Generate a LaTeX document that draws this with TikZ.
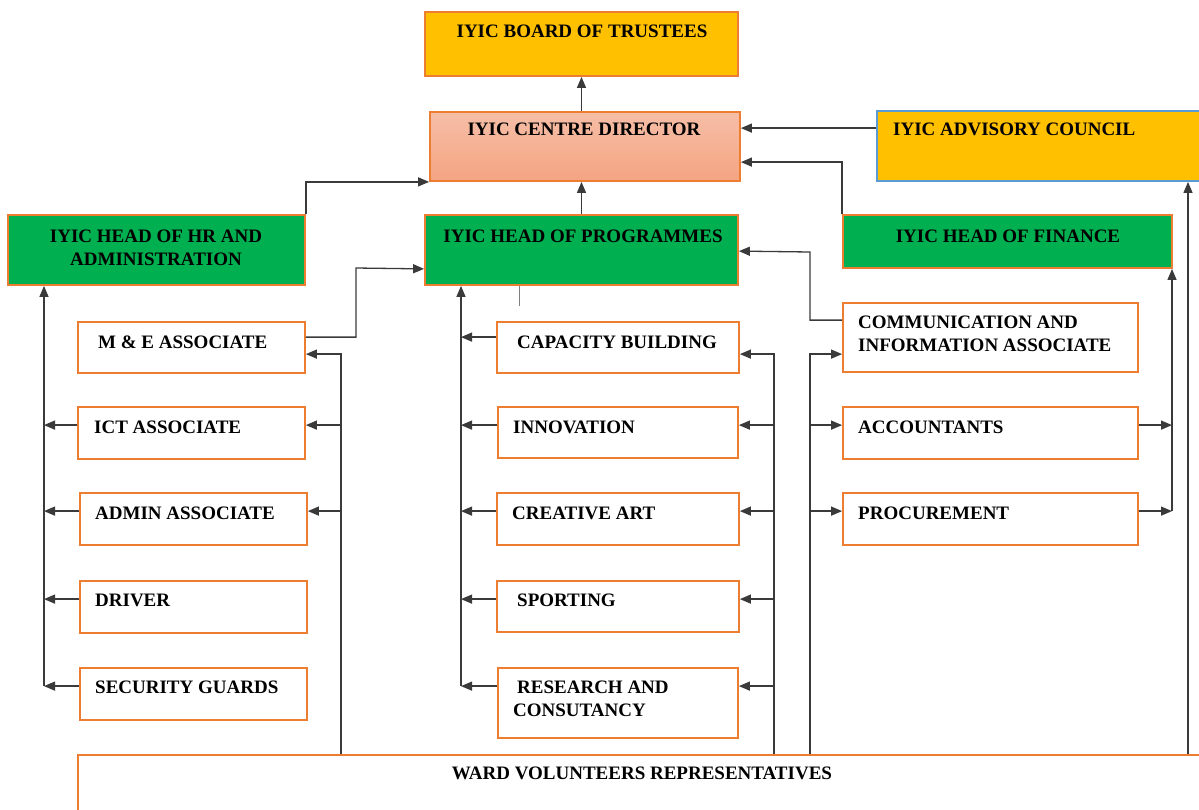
\documentclass[tikz,border=0pt]{standalone}
\usepackage{fontspec}
\setmainfont{Liberation Serif}
\usetikzlibrary{arrows.meta,calc}
\definecolor{borange}{HTML}{ED7D31}
\definecolor{gold}{HTML}{FFC000}
\definecolor{ggreen}{HTML}{00B050}
\definecolor{bblue}{HTML}{5B9BD5}
\definecolor{lgray}{HTML}{3A3A3A}
\definecolor{dtop}{HTML}{F6BEA7}
\definecolor{dbot}{HTML}{F4A481}
\begin{document}
\begin{tikzpicture}[x=1pt,y=-1pt,
  box/.style={draw=borange, line width=1.8pt, fill=white, inner sep=0pt},
  goldbox/.style={box, fill=gold},
  greenbox/.style={box, fill=ggreen},
  txt/.style={inner sep=0pt, font=\fontsize{19}{23}\selectfont\bfseries, anchor=north west, align=left},
  ctxt/.style={txt, anchor=north, align=center},
  arr/.style={draw=lgray, line width=1.3pt, -{Triangle[length=11pt,width=9pt]}},
  ln/.style={draw=lgray, line width=1.3pt}]
\useasboundingbox (0,0) rectangle (1199,809);
\clip (0,0) rectangle (1199,809);

% top level
\node[goldbox, minimum width=313pt, minimum height=64pt] (board) at (581.5,44) {};
\node[box, top color=dtop, bottom color=dbot, minimum width=310pt, minimum height=69pt] (director) at (585,146.5) {};
\node[goldbox, draw=bblue, minimum width=338pt, minimum height=70pt] (advisory) at (1046,146) {};
\node[greenbox, minimum width=297pt, minimum height=70pt] (hr) at (156.5,250) {};
\node[greenbox, minimum width=313pt, minimum height=70pt] (prog) at (581.5,250) {};
\node[greenbox, minimum width=329pt, minimum height=53pt] (fin) at (1007.5,241.5) {};

% left column
\node[box, minimum width=227pt, minimum height=51pt] (me) at (191.5,347.5) {};
\node[box, minimum width=227pt, minimum height=52pt] (ict) at (191.5,433) {};
\node[box, minimum width=227pt, minimum height=52pt] (admin) at (193.5,519) {};
\node[box, minimum width=227pt, minimum height=52pt] (driver) at (193.5,607) {};
\node[box, minimum width=227pt, minimum height=52pt] (security) at (193.5,694) {};

% middle column
\node[box, minimum width=242pt, minimum height=51pt] (cap) at (618,347.5) {};
\node[box, minimum width=240pt, minimum height=51pt] (innov) at (618,432.5) {};
\node[box, minimum width=242pt, minimum height=52pt] (creative) at (618,519) {};
\node[box, minimum width=242pt, minimum height=51pt] (sporting) at (618,606.5) {};
\node[box, minimum width=240pt, minimum height=70pt] (research) at (618,703) {};

% right column
\node[box, minimum width=295pt, minimum height=69pt] (comm) at (990.5,337.5) {};
\node[box, minimum width=295pt, minimum height=52pt] (acc) at (990.5,433) {};
\node[box, minimum width=295pt, minimum height=52pt] (proc) at (990.5,519) {};

% ward
\node[box, minimum width=1137pt, minimum height=75pt] (ward) at (646.5,792.5) {};

% texts
\node[ctxt] at (582,24.5) {IYIC BOARD OF TRUSTEES};
\node[ctxt] at (584,122.5) {IYIC CENTRE DIRECTOR};
\node[txt] at (893,122.5) {IYIC ADVISORY COUNCIL};
\node[ctxt] at (156,229.5) {IYIC HEAD OF HR AND\\ADMINISTRATION};
\node[ctxt] at (583,229.5) {IYIC HEAD OF PROGRAMMES};
\node[ctxt] at (1008,229.5) {IYIC HEAD OF FINANCE};
\node[txt] at (98,335.5) {M \& E ASSOCIATE};
\node[txt] at (94,420.5) {ICT ASSOCIATE};
\node[txt] at (95,506.5) {ADMIN ASSOCIATE};
\node[txt] at (95,594) {DRIVER};
\node[txt] at (95,681) {SECURITY GUARDS};
\node[txt] at (517,335.5) {CAPACITY BUILDING};
\node[txt] at (513,420.5) {INNOVATION};
\node[txt] at (512,506.5) {CREATIVE ART};
\node[txt] at (517,594) {SPORTING};
\node[txt] at (513,681) {\hspace*{4pt}RESEARCH AND\\CONSUTANCY};
\node[txt] at (858,315.5) {COMMUNICATION AND\\INFORMATION ASSOCIATE};
\node[txt] at (858,420.5) {ACCOUNTANTS};
\node[txt] at (858,506.5) {PROCUREMENT};
\node[ctxt] at (642,766.5) {WARD VOLUNTEERS REPRESENTATIVES};

% bus x positions
\coordinate (hrx) at (44,0);
\coordinate (pgx) at (461,0);
\coordinate (wlx) at (341,0);
\coordinate (wmx) at (774,0);
\coordinate (wrx) at (810,0);
\coordinate (fnx) at (1172,0);
\coordinate (avx) at (1188,0);

% ports
\foreach \n in {ict,admin,driver,security,innov,creative,sporting,research,acc,proc}{
  \coordinate (\n-l) at ($(\n.north west)+(0,19)$);
  \coordinate (\n-r) at ($(\n.north east)+(0,19)$);
}
\coordinate (me-o) at ($(me.north east)+(0,16)$);
\coordinate (me-i) at ($(me.north east)+(0,33)$);
\coordinate (cap-l) at ($(cap.north west)+(0,16)$);
\coordinate (cap-i) at ($(cap.north east)+(0,33)$);
\coordinate (comm-o) at ($(comm.north west)+(0,18)$);
\coordinate (comm-i) at ($(comm.north west)+(0,52)$);
\coordinate (me-bend) at (356,0);

% top connectors
\draw[arr] (board.south |- director.north) -- (board.south);
\draw[arr] (prog.north) -- (prog.north |- director.south);
\draw[arr] (hr.north east) |- (director.south west);
\draw[arr] ($(advisory.north west)+(0,18)$) -- ($(director.north east)+(0,17)$);
\draw[arr] (fin.north west) |- ($(director.north east)+(0,51)$);
\draw[arr] (me-o) -| ($(me-bend)+(0,268)$) -- ($(prog.south west)+(0,-17)$);
\draw[arr] (comm-o) -| ($(wrx)+(0,252)$) -- ($(prog.north east)+(0,37)$);
\draw[line width=0.6pt, draw=gray] ($(prog.south west)+(95,0)$) -- ++(0,20);

% HR bus
\draw[arr] (hrx |- security-l) -- (hrx |- hr.south);
\foreach \n in {ict,admin,driver,security} \draw[arr] (\n-l) -- (hrx |- \n-l);

% programmes bus
\draw[arr] (pgx |- research-l) -- (pgx |- prog.south);
\draw[arr] (cap-l) -- (pgx |- cap-l);
\foreach \n in {innov,creative,sporting,research} \draw[arr] (\n-l) -- (pgx |- \n-l);

% ward left bus
\draw[arr] (ward.north -| wlx) |- (me-i);
\foreach \n in {ict,admin} \draw[arr] (wlx |- \n-r) -- (\n-r);

% ward middle bus
\draw[arr] (ward.north -| wmx) |- (cap-i);
\foreach \n in {innov,creative,sporting,research} \draw[arr] (wmx |- \n-r) -- (\n-r);

% ward right bus
\draw[arr] (ward.north -| wrx) |- (comm-i);
\foreach \n in {acc,proc} \draw[arr] (wrx |- \n-l) -- (\n-l);

% finance bus
\foreach \n in {acc,proc} \draw[arr] (\n-r) -- (fnx |- \n-r);
\draw[arr] (fnx |- proc-r) -- (fnx |- fin.south);

% advisory bus
\draw[arr] (ward.north -| avx) -- (avx |- advisory.south);
\end{tikzpicture}
\end{document}
